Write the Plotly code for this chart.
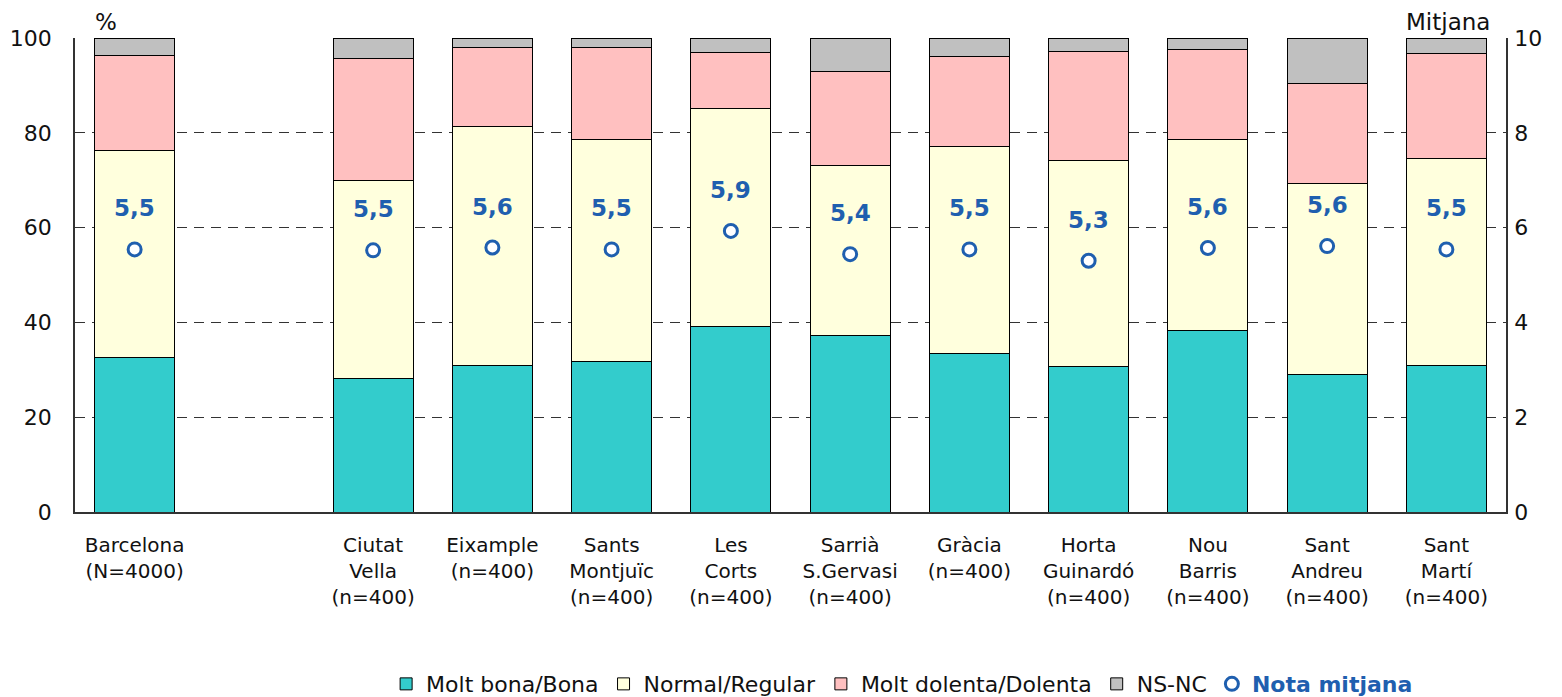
import plotly.graph_objects as go

categories = ["Barcelona<br>(N=4000)", " ", "Ciutat<br>Vella<br>(n=400)", "Eixample<br>(n=400)",
              "Sants<br>Montjuïc<br>(n=400)", "Les<br>Corts<br>(n=400)", "Sarrià<br>S.Gervasi<br>(n=400)",
              "Gràcia<br>(n=400)", "Horta<br>Guinardó<br>(n=400)", "Nou<br>Barris<br>(n=400)",
              "Sant<br>Andreu<br>(n=400)", "Sant<br>Martí<br>(n=400)"]

molt_bona = [32.6, None, 28.2, 30.9, 31.7, 39.2, 37.3, 33.4, 30.7, 38.2, 29.0, 30.9]
normal = [43.7, None, 41.8, 50.4, 46.8, 46.0, 35.7, 43.8, 43.5, 40.3, 40.4, 43.6]
dolenta = [20.0, None, 25.7, 16.8, 19.4, 11.7, 19.9, 18.8, 23.0, 19.0, 21.0, 22.2]
ns_nc = [3.7, None, 4.3, 1.9, 2.1, 3.1, 7.1, 4.0, 2.8, 2.5, 9.6, 3.3]
nota = [5.54, None, 5.52, 5.58, 5.54, 5.93, 5.44, 5.54, 5.30, 5.57, 5.61, 5.54]

FONT = "DejaVu Sans, Verdana, sans-serif"
BLUE = "#1F5FAF"

fig = go.Figure()
series = [
    ("Molt bona/Bona", molt_bona, "#33CCCC"),
    ("Normal/Regular", normal, "#FFFFDD"),
    ("Molt dolenta/Dolenta", dolenta, "#FFC0C0"),
    ("NS-NC", ns_nc, "#C0C0C0"),
]
for name, vals, col in series:
    fig.add_trace(go.Bar(x=categories, y=vals, name=name, width=0.67,
                         marker=dict(color=col, line=dict(color="#000000", width=1))))

fig.add_trace(go.Scatter(x=categories, y=nota, yaxis="y2", mode="markers",
                         name=f"<b><span style='color:{BLUE}'>Nota mitjana</span></b>",
                         marker=dict(symbol="circle", size=13, color="white",
                                     line=dict(color=BLUE, width=3))))

for c, v in zip(categories, nota):
    if v is None:
        continue
    fig.add_annotation(x=c, y=v, yref="y2", text=f"<b>{v:.1f}</b>".replace(".", ","),
                       showarrow=False, yshift=41, font=dict(family=FONT, size=23, color=BLUE))

fig.add_annotation(xref="paper", yref="paper", x=0.022, y=1.034, text="%", showarrow=False,
                   xanchor="center", yanchor="middle", font=dict(family=FONT, size=23, color="#111"))
fig.add_annotation(xref="paper", yref="paper", x=0.990, y=1.034, text="Mitjana", showarrow=False,
                   xanchor="right", yanchor="middle", font=dict(family=FONT, size=23, color="#111"))

fig.update_layout(
    width=1554, height=689,
    margin=dict(l=67, r=56, t=30, b=185, autoexpand=False),
    barmode="stack",
    plot_bgcolor="white", paper_bgcolor="white",
    font=dict(family=FONT, size=19, color="#111"),
    showlegend=True,
    legend=dict(orientation="h", x=0.578, xanchor="center", y=-0.363, yanchor="middle",
                font=dict(family=FONT, size=22, color="#111"), itemwidth=30,
                traceorder="normal", tracegroupgap=0),
    xaxis=dict(type="category", showline=True, linecolor="#333", linewidth=1.5, automargin=False,
               tickfont=dict(family=FONT, size=20, color="#111"), ticks="", showgrid=False,
               range=[-0.5, 11.5], mirror=False, ticklabelstandoff=14),
    yaxis=dict(range=[0, 100], dtick=20, showline=True, linecolor="#333", linewidth=1.5,
               showgrid=True, gridcolor="#333", griddash="10px,7px", gridwidth=1, automargin=False,
               tickfont=dict(family=FONT, size=22, color="#111"), ticks="", zeroline=False,
               ticklabelstandoff=17),
    yaxis2=dict(range=[0, 10], dtick=2, overlaying="y", side="right", showline=True,
                linecolor="#333", linewidth=1.5, showgrid=False, zeroline=False, automargin=False,
                tickfont=dict(family=FONT, size=22, color="#111"), ticks="", ticklabelstandoff=2),
)

fig.write_html("out.html")
